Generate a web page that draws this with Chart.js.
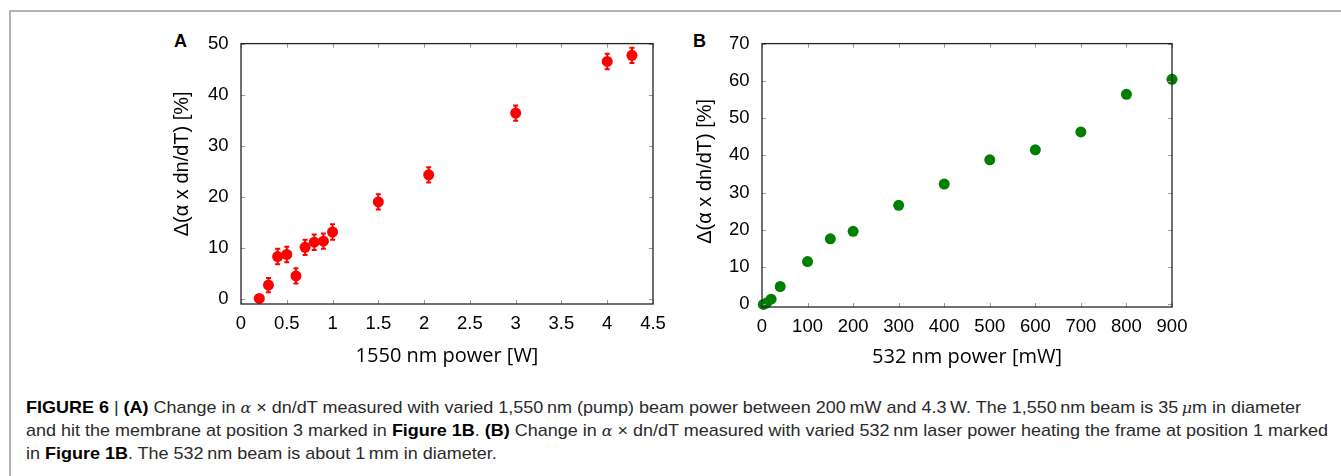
<!DOCTYPE html>
<html>
<head>
<meta charset="utf-8">
<script src="https://cdn.jsdelivr.net/npm/chart.js@4.4.1/dist/chart.umd.min.js"></script>
<style>
  html, body { margin:0; padding:0; background:#fff; }
  body { width:1341px; height:476px; position:relative; overflow:hidden; }
  .frame { position:absolute; left:9px; top:10px; width:1340px; height:480px; border-top:2px solid #b3b3b3; border-left:2px solid #b3b3b3; }
  .cv { position:absolute; }
  .panel { position:absolute; font-family:"Liberation Sans", Arial, sans-serif; font-weight:bold; font-size:18px; color:#000; line-height:1; }
  .cap { position:absolute; left:26px; font-family:"Liberation Sans", Arial, sans-serif; font-size:17px; color:#2a2a2a; white-space:nowrap; transform-origin:0 50%; line-height:1; }
  .cap b { color:#000; }
  .m { font-family:"DejaVu Serif", "Liberation Serif", serif; font-style:italic; font-size:15px; }
</style>
</head>
<body>
<div class="frame"></div>
<div class="panel" style="left:174px; top:32px;">A</div>
<div class="panel" style="left:693px; top:32px;">B</div>
<div class="cv" style="left:160px; top:20px; width:520px; height:360px;"><canvas id="cA"></canvas></div>
<div class="cv" style="left:680px; top:20px; width:520px; height:360px;"><canvas id="cB"></canvas></div>
<div class="cap" id="l1" style="top:399px;"><b>FIGURE 6</b> | <b>(A)</b> Change in <span class="m">α</span> × dn/dT measured with varied 1,550&#8201;nm (pump) beam power between 200&#8201;mW and 4.3&#8201;W. The 1,550&#8201;nm beam is 35&#8201;<span class="m">μ</span>m in diameter</div>
<div class="cap" id="l2" style="top:422px;">and hit the membrane at position 3 marked in <b>Figure 1B</b>. <b>(B)</b> Change in <span class="m">α</span> × dn/dT measured with varied 532&#8201;nm laser power heating the frame at position 1 marked</div>
<div class="cap" id="l3" style="top:445px;">in <b>Figure 1B</b>. The 532&#8201;nm beam is about 1&#8201;mm in diameter.</div>
<script>
// ---- Panel A data ----
const powerA = [0.2, 0.3, 0.4, 0.5, 0.6, 0.7, 0.8, 0.9, 1.0, 1.5, 2.05, 3.0, 4.0, 4.27];
const deltaA = [0.1, 2.7, 8.3, 8.7, 4.5, 10.1, 11.1, 11.3, 13.1, 19.0, 24.3, 36.4, 46.5, 47.7];
const errA   = [0, 1.4, 1.5, 1.5, 1.5, 1.5, 1.5, 1.5, 1.5, 1.5, 1.5, 1.5, 1.5, 1.5];
const xTicksA = [0, 0.5, 1, 1.5, 2, 2.5, 3, 3.5, 4, 4.5];
const yTicksA = [0, 10, 20, 30, 40, 50];

// ---- Panel B data ----
const powerB = [3, 10, 20, 40, 100, 150, 200, 300, 400, 500, 600, 700, 800, 900];
const deltaB = [0.0, 0.4, 1.4, 4.8, 11.5, 17.6, 19.6, 26.6, 32.3, 38.8, 41.5, 46.3, 56.4, 60.4];
const xTicksB = [0, 100, 200, 300, 400, 500, 600, 700, 800, 900];
const yTicksB = [0, 10, 20, 30, 40, 50, 60, 70];

const yTitleText = 'Δ(α x dn/dT) [%]';

const tickFont = { family: "'Liberation Sans', Arial, sans-serif", size: 18.5 };
const yTitleFont = { family: "'Liberation Sans', Arial, sans-serif", size: 20 };
const xTitleFont = { family: "'Open Sans', sans-serif", size: 20 };

const framePlugin = {
  id: 'frame',
  afterDraw(chart) {
    const { ctx, chartArea: a, scales } = chart;
    ctx.save();
    ctx.strokeStyle = '#999';
    ctx.lineWidth = 1;
    const L = 4;
    scales.x.ticks.forEach(t => {
      const x = Math.round(scales.x.getPixelForValue(t.value)) + 0.5;
      ctx.beginPath();
      ctx.moveTo(x, a.bottom); ctx.lineTo(x, a.bottom - L);
      ctx.moveTo(x, a.top); ctx.lineTo(x, a.top + L);
      ctx.stroke();
    });
    scales.y.ticks.forEach(t => {
      const y = Math.round(scales.y.getPixelForValue(t.value)) + 0.5;
      ctx.beginPath();
      ctx.moveTo(a.left, y); ctx.lineTo(a.left + L, y);
      ctx.moveTo(a.right, y); ctx.lineTo(a.right - L, y);
      ctx.stroke();
    });
    ctx.strokeStyle = '#222';
    ctx.lineWidth = 1.3;
    ctx.strokeRect(a.left, a.top, a.right - a.left, a.bottom - a.top);
    ctx.restore();
  }
};

const errPlugin = {
  id: 'errbars',
  beforeDatasetsDraw(chart, args, opts) {
    if (!opts.err) return;
    const { ctx, scales } = chart;
    const ds = chart.data.datasets[0];
    ctx.save();
    ctx.strokeStyle = opts.color;
    ctx.lineWidth = 2;
    ds.data.forEach((p, i) => {
      const e = opts.err[i];
      if (!e) return;
      const x = scales.x.getPixelForValue(p.x);
      const y1 = scales.y.getPixelForValue(p.y - e);
      const y2 = scales.y.getPixelForValue(p.y + e);
      ctx.beginPath();
      ctx.moveTo(x, y1); ctx.lineTo(x, y2);
      ctx.moveTo(x - 2.5, y1); ctx.lineTo(x + 2.5, y1);
      ctx.moveTo(x - 2.5, y2); ctx.lineTo(x + 2.5, y2);
      ctx.stroke();
    });
    ctx.restore();
  }
};

function makeChart(id, xs, ys, color, xr, yr, xTicks, yTicks, xTitle, yTitle, pad, yW, xH, yTitlePad, xTitlePad, err) {
  return new Chart(document.getElementById(id), {
    type: 'scatter',
    data: { datasets: [{
      data: xs.map((x, i) => ({ x, y: ys[i] })),
      backgroundColor: color, borderColor: color, pointRadius: 5.5, pointHoverRadius: 5.5,
      borderWidth: 0, clip: false
    }]},
    options: {
      responsive: true, maintainAspectRatio: false, animation: false,
      layout: { padding: pad },
      plugins: { legend: { display: false }, tooltip: { enabled: false },
                 errbars: { err: err, color: color } },
      scales: {
        x: {
          type: 'linear', min: xr[0], max: xr[1],
          afterBuildTicks: s => { s.ticks = xTicks.map(v => ({ value: v })); },
          afterFit: s => { s.height = xH; },
          grid: { display: false, drawTicks: false },
          border: { display: false },
          ticks: { font: tickFont, color: '#000', padding: 9, maxRotation: 0, autoSkip: false,
                   callback: v => String(v) },
          title: { display: true, text: xTitle, font: xTitleFont, color: '#000', padding: { top: 0, bottom: xTitlePad } }
        },
        y: {
          type: 'linear', min: yr[0], max: yr[1],
          afterBuildTicks: s => { s.ticks = yTicks.map(v => ({ value: v })); },
          afterFit: s => { s.width = yW; },
          grid: { display: false, drawTicks: false },
          border: { display: false },
          ticks: { font: tickFont, color: '#000', padding: 12.5, autoSkip: false,
                   callback: v => String(v) },
          title: { display: true, text: yTitle, font: yTitleFont, color: '#000', padding: { top: yTitlePad, bottom: 0 } }
        }
      }
    },
    plugins: [framePlugin, errPlugin]
  });
}

makeChart('cA', powerA, deltaA, '#ff0000', [0, 4.5], [-1, 50], xTicksA, yTicksA,
  '1550 nm power [W]', '\u2002\u2002' + yTitleText, { top: 16, right: 27, left: 0, bottom: 0 }, 81, 76, 10, 11.3, errA);
makeChart('cB', powerB, deltaB, '#008000', [0, 900], [-0.7, 70], xTicksB, yTicksB,
  '532 nm power [mW]', '\u2009\u2009' + yTitleText, { top: 20, right: 28, left: 0, bottom: 0 }, 82, 73, 13, 11, null);

// fit caption width to reference
(function(){
  const l2 = document.getElementById('l2');
  const w = l2.getBoundingClientRect().width;
  const s = 1302 / w;
  ['l1','l2','l3'].forEach(id => { document.getElementById(id).style.transform = 'scaleX(' + s + ')'; });
})();
</script>
</body>
</html>
